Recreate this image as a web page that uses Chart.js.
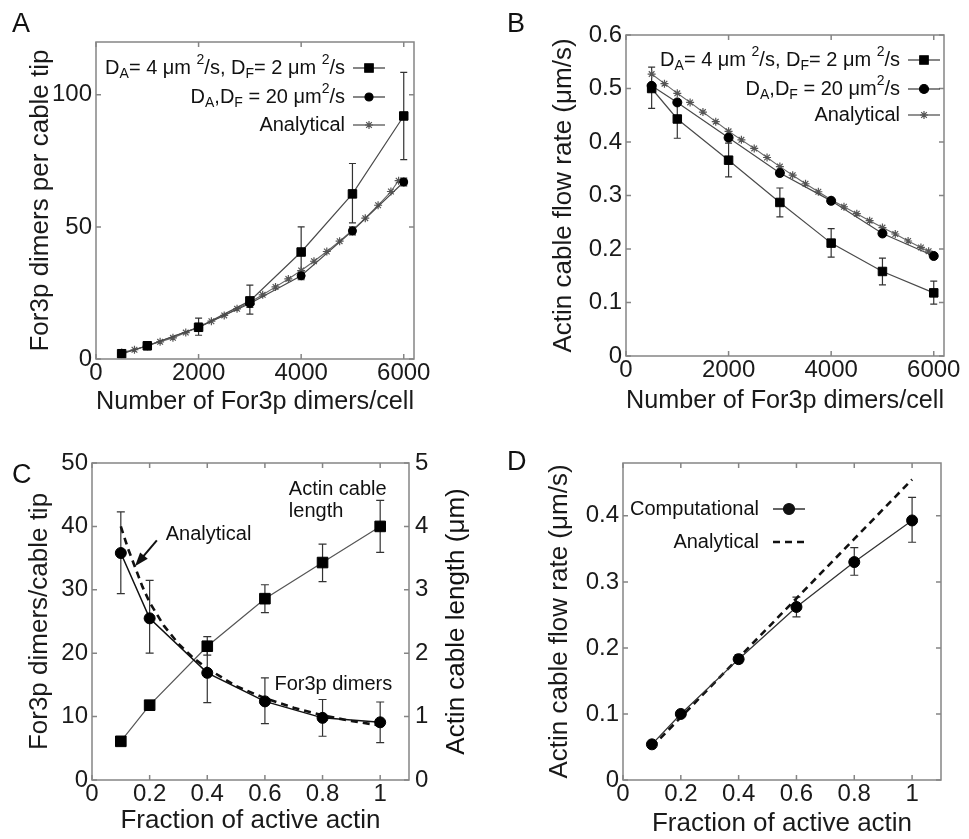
<!DOCTYPE html>
<html>
<head>
<meta charset="utf-8">
<script src="https://cdn.jsdelivr.net/npm/chart.js@4.4.1/dist/chart.umd.min.js"></script>
<style>
html, body { margin: 0; padding: 0; background: #fff; }
#fig { position: relative; width: 969px; height: 839px; overflow: hidden; }
.panel { position: absolute; }
</style>
</head>
<body>
<div id="fig">
  <div class="panel" style="left:0;top:0"><canvas id="chartA" width="480" height="420"></canvas></div>
  <div class="panel" style="left:480px;top:0"><canvas id="chartB" width="489" height="420"></canvas></div>
  <div class="panel" style="left:0;top:420px"><canvas id="chartC" width="480" height="419"></canvas></div>
  <div class="panel" style="left:480px;top:420px"><canvas id="chartD" width="489" height="419"></canvas></div>
</div>
<script>
// ---- data: panels A and B (x = For3p dimers per cell) ----
const dimersPerCell = [500, 1000, 2000, 3000, 4000, 5000, 6000];
const analyticalCells = [500, 750, 1000, 1250, 1500, 1750, 2000, 2250, 2500, 2750, 3000, 3250,
                         3500, 3750, 4000, 4250, 4500, 4750, 5000, 5250, 5500, 5750, 5900];

const tipSlow     = [2, 5, 12, 22, 40.5, 62.5, 92];
const tipSlowLow  = [1, 3.5, 9, 17, 31, 51.5, 75.5];
const tipSlowHigh = [3, 6.5, 15.5, 28, 50, 74, 108.5];
const tipFast     = [2, 5, 12, 21, 31.5, 48.5, 67];
const tipFastLow  = [1.5, 4, 10.5, 19.5, 30, 47, 65.5];
const tipFastHigh = [2.5, 6, 13.5, 22.5, 33, 50, 68.5];
const tipAnalytical = [2.5, 3.5, 5, 6.5, 8, 10, 12, 14.3, 16.5, 19, 21.5, 24.3,
                       27.3, 30.3, 33.5, 37, 40.7, 44.6, 48.8, 53.3, 58.2, 63.4, 67.5];

const flowSlow     = [0.50, 0.443, 0.366, 0.287, 0.211, 0.158, 0.118];
const flowSlowLow  = [0.463, 0.407, 0.335, 0.26, 0.185, 0.133, 0.097];
const flowSlowHigh = [0.54, 0.478, 0.398, 0.314, 0.238, 0.183, 0.14];
const flowFast     = [0.505, 0.474, 0.408, 0.342, 0.29, 0.229, 0.187];
const flowFastLow  = [0.5, 0.469, 0.403, 0.337, 0.285, 0.224, 0.183];
const flowFastHigh = [0.51, 0.479, 0.413, 0.347, 0.295, 0.234, 0.191];
const flowAnalytical = [0.527, 0.509, 0.491, 0.474, 0.456, 0.438, 0.42, 0.404, 0.388, 0.371, 0.354, 0.338,
                        0.322, 0.307, 0.292, 0.279, 0.266, 0.253, 0.240, 0.228, 0.215, 0.203, 0.196];

// ---- data: panels C and D (x = fraction of active actin) ----
const activeFraction = [0.1, 0.2, 0.4, 0.6, 0.8, 1.0];
const dimersTip     = [35.8, 25.5, 16.9, 12.4, 9.8, 9.1];
const dimersTipLow  = [29.4, 20.0, 12.2, 8.9, 6.9, 5.9];
const dimersTipHigh = [42.3, 31.5, 21.5, 16.1, 12.7, 12.3];
const cableLength     = [0.61, 1.18, 2.11, 2.86, 3.43, 4.0];
const cableLengthLow  = [0.61, 1.18, 1.97, 2.64, 3.13, 3.59];
const cableLengthHigh = [0.61, 1.18, 2.26, 3.08, 3.72, 4.41];
const analyticalFraction = [0.1, 0.125, 0.15, 0.175, 0.2, 0.25, 0.3, 0.35, 0.4, 0.5, 0.6, 0.7, 0.8, 0.9, 1.0];
const dimersAnalytical   = [40, 36.5, 33.5, 30.5, 28, 24.3, 21.5, 19.3, 17.6, 14.8, 12.9, 11.4, 10.2, 9.3, 8.6];

const flowComp     = [0.054, 0.1, 0.183, 0.262, 0.33, 0.393];
const flowCompLow  = [0.05, 0.097, 0.177, 0.247, 0.31, 0.36];
const flowCompHigh = [0.058, 0.103, 0.19, 0.277, 0.352, 0.428];
const flowLinear   = [0.05, 0.095, 0.185, 0.275, 0.365, 0.455];

// ---- tick labels ----
const cellTicks = [0, 2000, 4000, 6000];
const tipTicks = [0, 50, 100];
const flowTicksB = [0, 0.1, 0.2, 0.3, 0.4, 0.5, 0.6];
const fractionTicks = [0, 0.2, 0.4, 0.6, 0.8, 1];
const dimerTicksC = [0, 10, 20, 30, 40, 50];
const lengthTicksC = [0, 1, 2, 3, 4, 5];
const flowTicksD = [0, 0.1, 0.2, 0.3, 0.4];

// legend labels with sub/superscripts
const slowLabel = [['D', ''], ['A', 'sub'], ['= 4 μm ', ''], ['2', 'sup'], ['/s, D', ''], ['F', 'sub'], ['= 2 μm ', ''], ['2', 'sup'], ['/s', '']];
const fastLabel = [['D', ''], ['A', 'sub'], [',D', ''], ['F', 'sub'], [' = 20 μm', ''], ['2', 'sup'], ['/s', '']];

const FAMILY = '"Liberation Sans", Arial, Helvetica, sans-serif';
Chart.defaults.font.family = FAMILY;
Chart.defaults.color = '#1a1a1a';
Chart.defaults.animation = false;

const TICK_FONT = { size: 24 };
const TITLE_FONT = { size: 26 };

function pts(xs, ys) { return xs.map((x, i) => ({ x: x, y: ys[i] })); }
function font(px) { return px + 'px ' + FAMILY; }

function xAxis(max, ticks, title, height, padBottom) {
    return {
        type: 'linear', min: 0, max: max,
        grid: { display: false, drawTicks: false },
        border: { display: false },
        afterBuildTicks: s => { s.ticks = ticks.map(v => ({ value: v })); },
        afterFit: s => { s.height = height; s.paddingLeft = 0; s.paddingRight = 0; },
        ticks: { font: TICK_FONT, padding: 0, maxRotation: 0, autoSkip: false, callback: v => String(v) },
        title: { display: true, text: title, font: TITLE_FONT, padding: { top: 0, bottom: padBottom } }
    };
}

function yAxis(max, ticks, title, width, padTop, position) {
    return {
        type: 'linear', min: 0, max: max, position: position || 'left',
        grid: { display: false, drawTicks: false },
        border: { display: false },
        afterBuildTicks: s => { s.ticks = ticks.map(v => ({ value: v })); },
        afterFit: s => { s.width = width; s.paddingTop = 0; s.paddingBottom = 0; },
        ticks: { font: TICK_FONT, padding: position === 'right' ? 6 : 4, autoSkip: false, callback: v => String(v) },
        title: { display: !!title, text: title, font: TITLE_FONT, padding: { top: padTop, bottom: 0 } }
    };
}

// box round the plot with inward ticks on all four sides + the panel letter
function framePlugin(letter, lx, ly) {
    return {
        id: 'frame' + letter,
        afterDraw(chart) {
            const { ctx, chartArea: a, scales } = chart;
            ctx.save();
            ctx.strokeStyle = '#858585';
            ctx.lineWidth = 1.5;
            ctx.strokeRect(a.left, a.top, a.right - a.left, a.bottom - a.top);
            const t = 5;
            ctx.beginPath();
            scales.x.ticks.forEach(tk => {
                const px = scales.x.getPixelForValue(tk.value);
                ctx.moveTo(px, a.bottom); ctx.lineTo(px, a.bottom - t);
                ctx.moveTo(px, a.top); ctx.lineTo(px, a.top + t);
            });
            scales.y.ticks.forEach(tk => {
                const py = scales.y.getPixelForValue(tk.value);
                ctx.moveTo(a.left, py); ctx.lineTo(a.left + t, py);
            });
            const yr = scales.y2 || scales.y;
            yr.ticks.forEach(tk => {
                const py = yr.getPixelForValue(tk.value);
                ctx.moveTo(a.right, py); ctx.lineTo(a.right - t, py);
            });
            ctx.stroke();
            ctx.fillStyle = '#111';
            ctx.font = font(27);
            ctx.textAlign = 'left';
            ctx.textBaseline = 'alphabetic';
            ctx.fillText(letter, lx, ly);
            ctx.restore();
        }
    };
}

const errorBarPlugin = {
    id: 'errorBars',
    beforeDatasetsDraw(chart) {
        const ctx = chart.ctx;
        chart.data.datasets.forEach((ds, i) => {
            if (!ds.errLow) return;
            const meta = chart.getDatasetMeta(i);
            const xs = meta.xScale, ys = meta.yScale;
            const cap = ds.errCap || 3.5;
            ctx.save();
            ctx.strokeStyle = '#333';
            ctx.lineWidth = 1.2;
            ctx.beginPath();
            ds.data.forEach((p, j) => {
                const x = xs.getPixelForValue(p.x);
                const lo = ys.getPixelForValue(ds.errLow[j]);
                const hi = ys.getPixelForValue(ds.errHigh[j]);
                if (Math.abs(lo - hi) < 1) return;
                ctx.moveTo(x, lo); ctx.lineTo(x, hi);
                ctx.moveTo(x - cap, lo); ctx.lineTo(x + cap, lo);
                ctx.moveTo(x - cap, hi); ctx.lineTo(x + cap, hi);
            });
            ctx.stroke();
            ctx.restore();
        });
    }
};

function richWidth(ctx, parts, size) {
    let w = 0;
    parts.forEach(p => { ctx.font = font(p[1] ? size * 0.7 : size); w += ctx.measureText(p[0]).width; });
    return w;
}

function drawRich(ctx, parts, xRight, y, size) {
    let x = xRight - richWidth(ctx, parts, size);
    ctx.textAlign = 'left';
    ctx.textBaseline = 'middle';
    parts.forEach(p => {
        ctx.font = font(p[1] ? size * 0.7 : size);
        const dy = p[1] === 'sub' ? size * 0.32 : (p[1] === 'sup' ? -size * 0.38 : 0);
        ctx.fillText(p[0], x, y + dy);
        x += ctx.measureText(p[0]).width;
    });
}

// legend drawn by hand because of the subscripts; offsets are from the plot box
function legendPlugin(id, cfg) {
    return {
        id: id,
        afterDraw(chart) {
            const { ctx, chartArea: a } = chart;
            const base = cfg.fromRight ? a.right : a.left;
            const sign = cfg.fromRight ? -1 : 1;
            const textRight = base + sign * cfg.text;
            const s1 = base + sign * cfg.sample[0], s2 = base + sign * cfg.sample[1];
            ctx.save();
            cfg.rows.forEach(r => {
                const y = a.top + r.dy;
                ctx.fillStyle = '#111';
                drawRich(ctx, r.parts, textRight, y, 20);
                ctx.strokeStyle = r.color || '#444';
                ctx.lineWidth = r.width || 1.3;
                ctx.setLineDash(r.dash || []);
                ctx.beginPath(); ctx.moveTo(s1, y); ctx.lineTo(s2, y); ctx.stroke();
                ctx.setLineDash([]);
                if (r.style) {
                    ctx.fillStyle = r.color || '#000';
                    ctx.strokeStyle = r.color || '#000';
                    ctx.lineWidth = 1.2;
                    Chart.helpers.drawPoint(ctx, { pointStyle: r.style, radius: r.radius, rotation: 0, borderWidth: 1.2 }, (s1 + s2) / 2, y);
                }
            });
            ctx.restore();
        }
    };
}

const baseOpts = (pad) => ({
    responsive: false,
    animation: false,
    layout: { padding: pad },
    plugins: { legend: { display: false }, tooltip: { enabled: false } }
});

// ---------------- Panel A ----------------
const optsA = baseOpts({ top: 42, right: 66, left: 0, bottom: 0 });
optsA.scales = {
    x: xAxis(6200, cellTicks, 'Number of For3p dimers/cell', 61, 3),
    y: yAxis(120, tipTicks, 'For3p dimers per cable tip', 96, 25)
};
new Chart(document.getElementById('chartA'), {
    type: 'scatter',
    data: { datasets: [
        { data: pts(dimersPerCell, tipSlow), errLow: tipSlowLow, errHigh: tipSlowHigh, showLine: true,
          borderColor: '#4a4a4a', borderWidth: 1.2, pointStyle: 'rect', pointRadius: 6,
          pointBackgroundColor: '#000', pointBorderColor: '#000', pointBorderWidth: 1 },
        { data: pts(dimersPerCell, tipFast), errLow: tipFastLow, errHigh: tipFastHigh, showLine: true,
          borderColor: '#4a4a4a', borderWidth: 1.2, pointStyle: 'circle', pointRadius: 4,
          pointBackgroundColor: '#000', pointBorderColor: '#000', pointBorderWidth: 1 },
        { data: pts(analyticalCells, tipAnalytical), showLine: true,
          borderColor: '#666', borderWidth: 1.1, pointStyle: 'star', pointRadius: 4,
          pointBackgroundColor: '#555', pointBorderColor: '#555', pointBorderWidth: 1.2 }
    ] },
    options: optsA,
    plugins: [framePlugin('A', 12, 32), errorBarPlugin, legendPlugin('legA', {
        fromRight: true, text: 69, sample: [61, 29],
        rows: [
            { parts: slowLabel, dy: 26, style: 'rect', radius: 6 },
            { parts: fastLabel, dy: 55, style: 'circle', radius: 4 },
            { parts: [['Analytical', '']], dy: 83, style: 'star', radius: 4, color: '#555' }
        ]
    })]
});

// ---------------- Panel B ----------------
const optsB = baseOpts({ top: 35, right: 25, left: 0, bottom: 0 });
optsB.scales = {
    x: xAxis(6200, cellTicks, 'Number of For3p dimers/cell', 64, 4),
    y: yAxis(0.6, flowTicksB, 'Actin cable flow rate (μm/s)', 146, 68)
};
new Chart(document.getElementById('chartB'), {
    type: 'scatter',
    data: { datasets: [
        { data: pts(dimersPerCell, flowSlow), errLow: flowSlowLow, errHigh: flowSlowHigh, showLine: true,
          borderColor: '#4a4a4a', borderWidth: 1.2, pointStyle: 'rect', pointRadius: 6,
          pointBackgroundColor: '#000', pointBorderColor: '#000', pointBorderWidth: 1 },
        { data: pts(dimersPerCell, flowFast), errLow: flowFastLow, errHigh: flowFastHigh, showLine: true,
          borderColor: '#4a4a4a', borderWidth: 1.2, pointStyle: 'circle', pointRadius: 4.5,
          pointBackgroundColor: '#000', pointBorderColor: '#000', pointBorderWidth: 1 },
        { data: pts(analyticalCells, flowAnalytical), showLine: true,
          borderColor: '#666', borderWidth: 1.1, pointStyle: 'star', pointRadius: 4,
          pointBackgroundColor: '#555', pointBorderColor: '#555', pointBorderWidth: 1.2 }
    ] },
    options: optsB,
    plugins: [framePlugin('B', 27, 32), errorBarPlugin, legendPlugin('legB', {
        fromRight: true, text: 44, sample: [36, 4],
        rows: [
            { parts: slowLabel, dy: 25, style: 'rect', radius: 6 },
            { parts: fastLabel, dy: 54, style: 'circle', radius: 4.5 },
            { parts: [['Analytical', '']], dy: 80, style: 'star', radius: 4, color: '#555' }
        ]
    })]
});

// ---------------- Panel C ----------------
const optsC = baseOpts({ top: 43, right: 0, left: 0, bottom: 0 });
optsC.scales = {
    x: xAxis(1.1, fractionTicks, 'Fraction of active actin', 59, 3),
    y: yAxis(50, dimerTicksC, 'For3p dimers/cable tip', 92, 24),
    y2: yAxis(5, lengthTicksC, '', 71, 0, 'right')
};
const annotC = {
    id: 'annotC',
    afterDraw(chart) {
        const { ctx, chartArea: a, scales: { x, y, y2 } } = chart;
        ctx.save();
        ctx.fillStyle = '#111';
        ctx.font = font(20);
        ctx.textAlign = 'left';
        ctx.textBaseline = 'middle';
        ctx.fillText('Analytical', x.getPixelForValue(0.256), y.getPixelForValue(38.7));
        ctx.fillText('Actin cable', x.getPixelForValue(0.683), y.getPixelForValue(45.9));
        ctx.fillText('length', x.getPixelForValue(0.683), y.getPixelForValue(42.4));
        ctx.fillText('For3p dimers', x.getPixelForValue(0.633), y.getPixelForValue(15));
        // arrow pointing at the dashed curve
        const x1 = x.getPixelForValue(0.225), y1 = y.getPixelForValue(37.8);
        const x2 = x.getPixelForValue(0.149), y2p = y.getPixelForValue(33.7);
        const ang = Math.atan2(y2p - y1, x2 - x1);
        ctx.strokeStyle = '#111';
        ctx.lineWidth = 2;
        ctx.beginPath();
        ctx.moveTo(x1, y1);
        ctx.lineTo(x2 - 10 * Math.cos(ang), y2p - 10 * Math.sin(ang));
        ctx.stroke();
        ctx.beginPath();
        ctx.moveTo(x2, y2p);
        ctx.lineTo(x2 - 14 * Math.cos(ang) + 5 * Math.sin(ang), y2p - 14 * Math.sin(ang) - 5 * Math.cos(ang));
        ctx.lineTo(x2 - 14 * Math.cos(ang) - 5 * Math.sin(ang), y2p - 14 * Math.sin(ang) + 5 * Math.cos(ang));
        ctx.closePath();
        ctx.fill();
        // right axis title reads bottom to top, like the left one
        ctx.translate(y2.right - 23, (a.top + a.bottom) / 2);
        ctx.rotate(-Math.PI / 2);
        ctx.font = font(26);
        ctx.textAlign = 'center';
        ctx.fillText('Actin cable length (μm)', 0, 0);
        ctx.restore();
    }
};
new Chart(document.getElementById('chartC'), {
    type: 'scatter',
    data: { datasets: [
        { data: pts(activeFraction, dimersTip), errLow: dimersTipLow, errHigh: dimersTipHigh, errCap: 4,
          showLine: true, borderColor: '#111', borderWidth: 1.5, pointStyle: 'circle', pointRadius: 5.5,
          pointBackgroundColor: '#000', pointBorderColor: '#000', pointBorderWidth: 1, yAxisID: 'y' },
        { data: pts(activeFraction, cableLength), errLow: cableLengthLow, errHigh: cableLengthHigh, errCap: 4,
          showLine: true, borderColor: '#555', borderWidth: 1.2, pointStyle: 'rect', pointRadius: 7.5,
          pointBackgroundColor: '#000', pointBorderColor: '#000', pointBorderWidth: 1, yAxisID: 'y2' },
        { data: pts(analyticalFraction, dimersAnalytical), showLine: true, borderColor: '#111',
          borderWidth: 2.6, borderDash: [7, 5], pointRadius: 0, yAxisID: 'y' }
    ] },
    options: optsC,
    plugins: [framePlugin('C', 12, 63), errorBarPlugin, annotC]
});

// ---------------- Panel D ----------------
const optsD = baseOpts({ top: 43, right: 28, left: 0, bottom: 0 });
optsD.scales = {
    x: xAxis(1.1, fractionTicks, 'Fraction of active actin', 59, 0),
    y: yAxis(0.48, flowTicksD, 'Actin cable flow rate (μm/s)', 143, 64)
};
new Chart(document.getElementById('chartD'), {
    type: 'scatter',
    data: { datasets: [
        { data: pts(activeFraction, flowComp), errLow: flowCompLow, errHigh: flowCompHigh, errCap: 4,
          showLine: true, borderColor: '#333', borderWidth: 1.3, pointStyle: 'circle', pointRadius: 5.5,
          pointBackgroundColor: '#000', pointBorderColor: '#000', pointBorderWidth: 1 },
        { data: pts(activeFraction, flowLinear), showLine: true, borderColor: '#111',
          borderWidth: 2.6, borderDash: [7, 5], pointRadius: 0 }
    ] },
    options: optsD,
    plugins: [framePlugin('D', 27, 50), errorBarPlugin, legendPlugin('legD', {
        fromRight: false, text: 136, sample: [150, 182],
        rows: [
            { parts: [['Computational', '']], dy: 46, style: 'circle', radius: 5.5, color: '#111' },
            { parts: [['Analytical', '']], dy: 79, dash: [7, 5], width: 2.6, color: '#111' }
        ]
    })]
});
</script>
</body>
</html>
